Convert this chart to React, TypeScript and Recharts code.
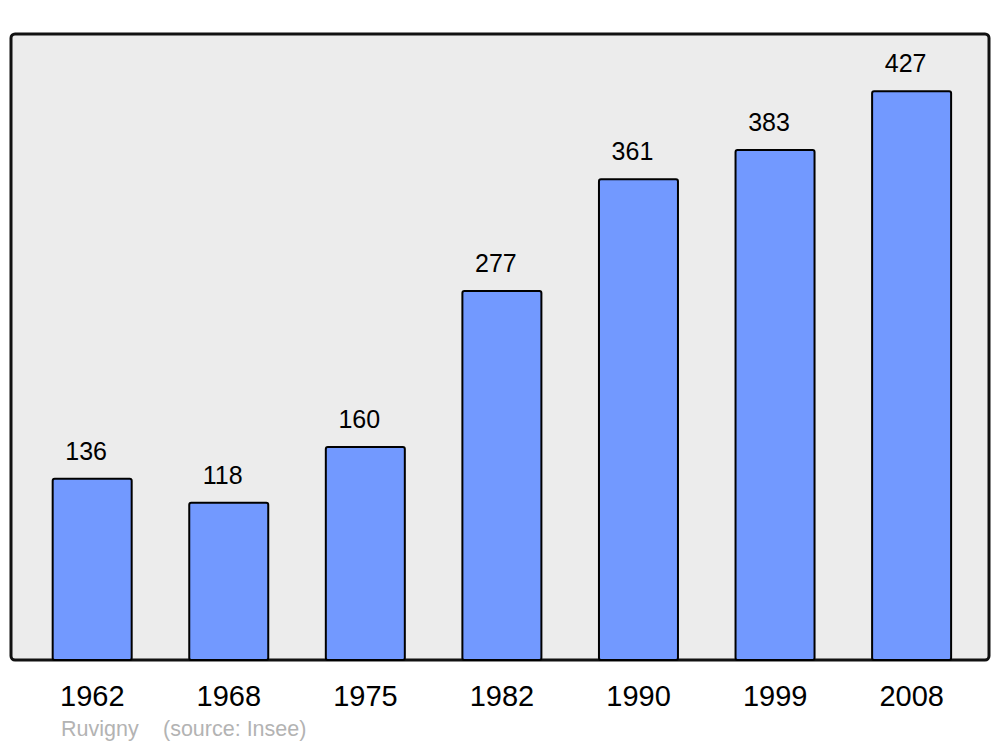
import { BarChart, Bar, XAxis, YAxis, LabelList, usePlotArea } from "recharts"

const years = ["1962", "1968", "1975", "1982", "1990", "1999", "2008"]
const population = [136, 118, 160, 277, 361, 383, 427]
const commune = "Ruvigny"
const source = "(source: Insee)"

const data = years.map((year, i) => ({ year, population: population[i] }))

const FONT = "'Liberation Sans', Arial, sans-serif"

function FrameFill() {
  const plot = usePlotArea()
  if (!plot) return null
  return <rect x={plot.x} y={plot.y} width={plot.width} height={plot.height} rx={4} fill="#ececec" />
}

function FrameBorder() {
  const plot = usePlotArea()
  if (!plot) return null
  return (
    <rect
      x={plot.x}
      y={plot.y}
      width={plot.width}
      height={plot.height}
      rx={4}
      fill="none"
      stroke="#111"
      strokeWidth={3}
    />
  )
}

const ValueLabel = (props: any) => {
  const { x, y, width, value } = props
  return (
    <text x={x + width / 2 - 6} y={y - 19} textAnchor="middle" fontSize={25} fontFamily={FONT} fill="#000">
      {value}
    </text>
  )
}

export default function App() {
  return (
    <div style={{ position: "absolute", left: 0, top: 0, width: 1000, height: 747, background: "#fff" }}>
      <BarChart
        width={1000}
        height={747}
        data={data}
        margin={{ top: 34, right: 11, bottom: 57, left: 11 }}
        barCategoryGap="21%"
      >
        <FrameFill />
        <XAxis
          dataKey="year"
          height={30}
          axisLine={false}
          tickLine={false}
          tickSize={0}
          tickMargin={25}
          padding={{ left: 13, right: 9 }}
          tick={{ fontSize: 29, fill: "#000", fontFamily: FONT }}
          interval={0}
        />
        <YAxis hide domain={[0, 470]} />
        <Bar
          dataKey="population"
          fill="#7299ff"
          stroke="#000"
          strokeWidth={2}
          radius={2}
          isAnimationActive={false}
        >
          <LabelList dataKey="population" content={ValueLabel} />
        </Bar>
        <FrameBorder />
      </BarChart>
      <div
        style={{
          position: "absolute",
          left: 61,
          top: 717,
          fontFamily: FONT,
          fontSize: 21.5,
          color: "#b3b3b3",
          whiteSpace: "pre",
        }}
      >
        {commune}
      </div>
      <div
        style={{
          position: "absolute",
          left: 163,
          top: 717,
          fontFamily: FONT,
          fontSize: 21.5,
          color: "#b3b3b3",
          whiteSpace: "pre",
        }}
      >
        {source}
      </div>
    </div>
  )
}
